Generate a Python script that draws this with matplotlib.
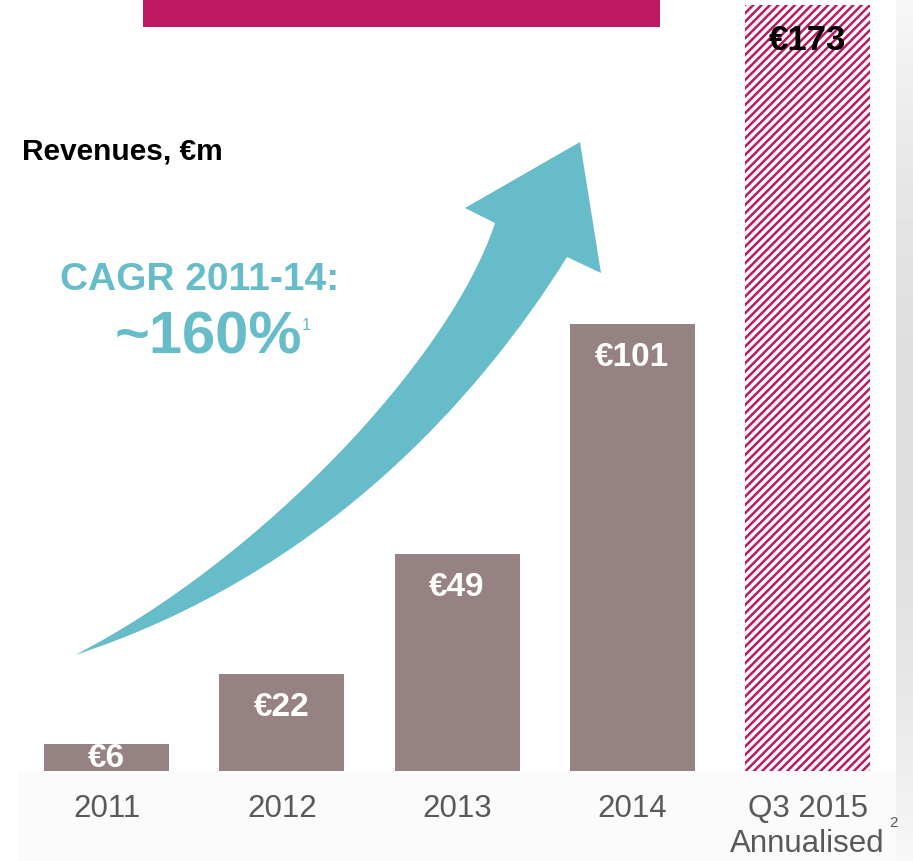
import numpy as np
import matplotlib
matplotlib.use("Agg")
import matplotlib.pyplot as plt
import matplotlib.patches as patches
from matplotlib.path import Path

plt.rcParams['font.family'] = ['Liberation Sans', 'DejaVu Sans']
plt.rcParams['hatch.linewidth'] = 1.8

# data
years = ["2011", "2012", "2013", "2014", "Q3 2015\nAnnualised"]
revenues = [6, 22, 49, 101, 173]
value_labels = ["€6", "€22", "€49", "€101", "€173"]

BAR = '#968282'
MAGENTA = '#BE1862'
TEAL = '#67BCC9'

W, H = 913, 861
fig = plt.figure(figsize=(W / 100, H / 100), dpi=100)
fig.patch.set_facecolor('white')


def px(x, y):
    # pixel (from top-left) -> figure fraction
    return x / W, 1 - y / H


# decorations: bottom band, right shadow strip, top magenta bar
fig.patches.append(patches.Rectangle(px(18, 861), 878 / W, 90 / H, transform=fig.transFigure,
                                     facecolor='#FBFBFB', edgecolor='none', zorder=-2))
fig.patches.append(patches.Rectangle(px(143, 27), 517 / W, 27 / H, transform=fig.transFigure,
                                     facecolor=MAGENTA, edgecolor='none', zorder=-2))
sh = fig.add_axes([896 / W, 0, 17 / W, 1], zorder=-3)
g = 0.87 + 0.1 * np.linspace(-1, 1, 200) ** 2
sh.imshow(g[:, None], cmap='gray', vmin=0, vmax=1, aspect='auto')
sh.axis('off')

# main axes: baseline at y=771 px
ax = fig.add_axes([0, 90 / H, 1, 771 / H])
ax.patch.set_alpha(0)
step = 175.25
ax.set_xlim(-106.5 / step, (W - 106.5) / step)
ax.set_ylim(0, 771 / 4.425)

x = np.arange(len(years))
width = 125 / step
ax.bar(x[:4], revenues[:4], width=width, color=BAR, linewidth=0)
ax.bar(x[4:], revenues[4:], width=width, facecolor='white', edgecolor=MAGENTA,
       hatch='////', linewidth=0)

offsets = [-14, -34, -33, -33, -35]
for i, (v, lab) in enumerate(zip(revenues, value_labels)):
    ax.annotate(lab, (x[i], v), xytext=(0, offsets[i]), textcoords='offset pixels',
                ha='center', va='center', fontsize=25 if i == 4 else 24, fontweight='bold',
                color='black' if i == 4 else 'white', annotation_clip=False)

ax.set_xticks(x, years)
ax.tick_params(axis='x', length=0, pad=16.5, labelsize=22.5, labelcolor='#595959')
for t in ax.get_xticklabels():
    t.set_linespacing(1.22)
ax.set_yticks([])
for s in ax.spines.values():
    s.set_visible(False)

fig.text(*px(893, 823), "2", fontsize=11, color='#595959', ha='center', va='center')

# curved arrow (decoration): two cubic edges and a head
left_edge = [(75, 655), (260, 560), (450, 360), (495, 223)]
right_edge = [(567, 257), (478, 400), (320, 575), (75, 655)]
head = [(465, 208), (580, 142), (601, 273), (567, 257)]
verts = left_edge + head + right_edge[1:] + [left_edge[0]]
codes = ([Path.MOVETO] + [Path.CURVE4] * 3 + [Path.LINETO] * 4
         + [Path.CURVE4] * 3 + [Path.CLOSEPOLY])
fverts = [px(a, b) for a, b in verts]
fig.patches.append(patches.PathPatch(Path(fverts, codes), transform=fig.transFigure,
                                     facecolor=TEAL, edgecolor='none', zorder=-1))

# texts
fig.text(*px(22, 151), "Revenues, €m", fontsize=21.5, fontweight='bold', color='black',
         ha='left', va='center')
fig.text(*px(200, 280), "CAGR 2011-14:", fontsize=28, fontweight='bold', color=TEAL,
         ha='center', va='center')
fig.text(*px(208, 338), "~160%", fontsize=43, fontweight='bold', color=TEAL,
         ha='center', va='center')
fig.text(*px(306, 325), "1", fontsize=12, color=TEAL, ha='center', va='center')

fig.savefig('out.png', dpi=100)
